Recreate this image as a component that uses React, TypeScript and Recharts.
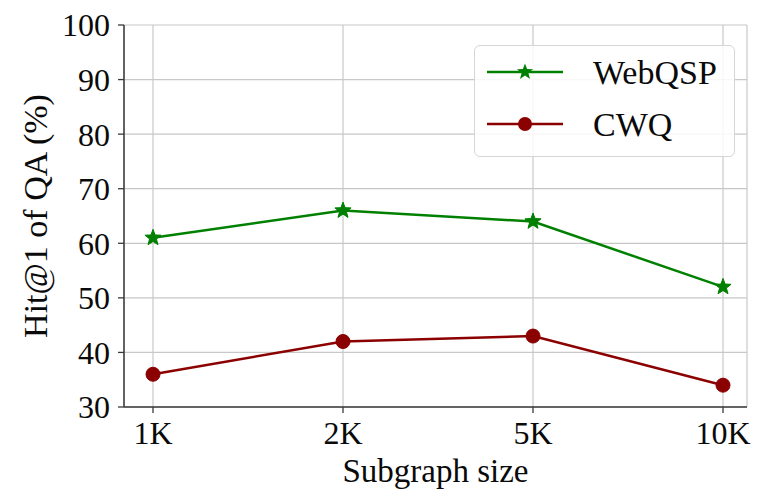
import React from "react";
import { LineChart, Line, XAxis, YAxis, CartesianGrid } from "recharts";

// subgraph sizes on the x axis
const sizes = ["1K", "2K", "5K", "10K"];
// Hit@1 of QA (%)
const webqsp = [61, 66, 64, 52];
const cwq = [36, 42, 43, 34];
const yTicks = [30, 40, 50, 60, 70, 80, 90, 100];

const GREEN = "#008000";
const DARKRED = "#8b0000";
const FONT = "'Liberation Serif', 'DejaVu Serif', serif";
const AXIS = "#3a3a3a";
const TEXT = "#0a0a0a";

const data = sizes.map((s, i) => ({ size: s, WebQSP: webqsp[i], CWQ: cwq[i] }));

function starPath(cx: number, cy: number, R: number) {
  const r = R * 0.42;
  let d = "";
  for (let i = 0; i < 10; i++) {
    const rad = i % 2 === 0 ? R : r;
    const a = -Math.PI / 2 + (i * Math.PI) / 5;
    d += (i === 0 ? "M" : "L") + (cx + rad * Math.cos(a)).toFixed(2) + "," + (cy + rad * Math.sin(a)).toFixed(2);
  }
  return d + "Z";
}

const StarDot = (props: any) => {
  const { cx, cy, index } = props;
  if (cx == null || cy == null) return null;
  return <path key={`s${index}`} d={starPath(cx, cy, 8.5)} fill={GREEN} stroke={GREEN} strokeWidth={1} />;
};

// legend drawn as an overlay in the upper right of the plot
const LegendBox = () => (
  <div
    style={{
      position: "absolute",
      left: 474,
      top: 45,
      width: 261,
      height: 112,
      border: "1px solid #d6d6d6",
      borderRadius: 6,
      background: "rgba(255,255,255,0.85)",
      boxSizing: "border-box",
    }}
  >
    <svg width={261} height={112} style={{ position: "absolute", left: 0, top: 0 }}>
      <line x1={12} y1={26} x2={88} y2={26} stroke={GREEN} strokeWidth={2.5} />
      <path d={starPath(50, 26, 8.5)} fill={GREEN} />
      <text x={118} y={26} dy="0.35em" fontFamily={FONT} fontSize={34} fill={TEXT}>WebQSP</text>
      <line x1={12} y1={78} x2={88} y2={78} stroke={DARKRED} strokeWidth={2.5} />
      <circle cx={50} cy={78} r={7} fill={DARKRED} />
      <text x={118} y={78} dy="0.35em" fontFamily={FONT} fontSize={34} fill={TEXT}>CWQ</text>
    </svg>
  </div>
);

export default function App() {
  const tickStyle = { fill: TEXT, fontSize: 32, fontFamily: FONT };
  return (
    <div style={{ position: "absolute", left: 0, top: 0, width: 757, height: 492, background: "#fff" }}>
      <LineChart width={757} height={492} data={data} margin={{ top: 25, right: 10, left: 30, bottom: 0 }}>
        <CartesianGrid stroke="#c8c8c8" strokeWidth={1.2} />
        <XAxis
          dataKey="size"
          height={85}
          interval={0}
          padding={{ left: 29, right: 24 }}
          tick={tickStyle}
          tickSize={6}
          tickMargin={8}
          tickLine={{ stroke: AXIS, strokeWidth: 1.3 }}
          axisLine={{ stroke: AXIS, strokeWidth: 1.5 }}
          label={{ value: "Subgraph size", position: "insideBottom", offset: 10, style: { fill: TEXT, fontSize: 33, fontFamily: FONT } }}
        />
        <XAxis xAxisId="top" dataKey="size" orientation="top" height={0} tick={false} tickLine={false} axisLine={{ stroke: AXIS, strokeWidth: 1.5 }} />
        <YAxis
          domain={[30, 100]}
          ticks={yTicks}
          interval={0}
          width={94}
          tick={tickStyle}
          tickSize={6}
          tickMargin={8}
          tickLine={{ stroke: AXIS, strokeWidth: 1.3 }}
          axisLine={{ stroke: AXIS, strokeWidth: 1.5 }}
          label={{ value: "Hit@1 of QA (%)", angle: -90, position: "insideLeft", offset: 5, style: { textAnchor: "middle", fill: TEXT, fontSize: 34, fontFamily: FONT } }}
        />
        <YAxis yAxisId="right" orientation="right" domain={[30, 100]} width={0} tick={false} tickLine={false} axisLine={{ stroke: AXIS, strokeWidth: 1.5 }} />
        <Line dataKey="WebQSP" stroke={GREEN} strokeWidth={2.5} dot={<StarDot />} activeDot={false} isAnimationActive={false} />
        <Line dataKey="CWQ" stroke={DARKRED} strokeWidth={2.5} dot={{ r: 7, fill: DARKRED, stroke: DARKRED, strokeWidth: 1 }} activeDot={false} isAnimationActive={false} />
      </LineChart>
      <LegendBox />
    </div>
  );
}
